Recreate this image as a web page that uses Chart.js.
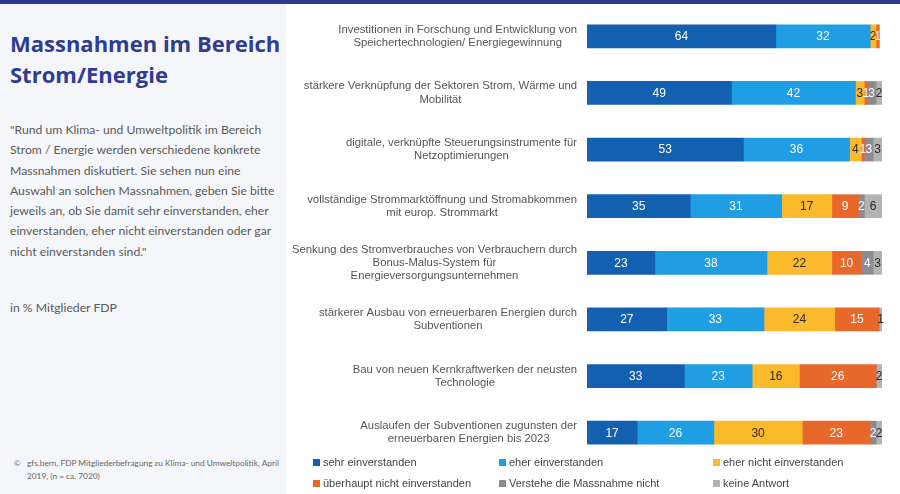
<!DOCTYPE html>
<html>
<head>
<meta charset="utf-8">
<script src="https://cdn.jsdelivr.net/npm/chart.js@4.4.1/dist/chart.umd.min.js"></script>
<style>
  html, body { margin:0; padding:0; width:900px; height:494px; overflow:hidden; background:#ffffff; }
  #topbar { position:absolute; left:0; top:0; width:900px; height:4px; background:#2c3a8e; }
  #panel { position:absolute; left:0; top:4px; width:286px; height:490px; background:#f5f6f9; }
  #title { position:absolute; left:10px; top:28px; font-family:"Open Sans", sans-serif; font-weight:700; font-size:22px; line-height:31px; color:#2f3c8f; white-space:nowrap; }
  #body { position:absolute; left:10px; top:120px; font-family:Lato, sans-serif; font-size:12.2px; line-height:20.3px; color:#5a5a5a; white-space:nowrap; }
  #unit { position:absolute; left:10px; top:300px; font-family:Lato, sans-serif; font-size:12.2px; color:#5a5a5a; white-space:nowrap; }
  #foot { position:absolute; left:14px; top:457px; font-family:Lato, sans-serif; font-size:8.3px; line-height:13px; color:#666; white-space:nowrap; }
  #foot span.c { position:absolute; left:0; top:0; }
  #foot div { margin-left:13px; }
  #wrap { position:absolute; left:286px; top:0; width:614px; height:470px; }
  #legend { position:absolute; left:0; top:0; font-family:"Liberation Sans", Arial, sans-serif; font-size:11px; color:#444; }
  .li { position:absolute; white-space:nowrap; }
  .li i { display:inline-block; width:7px; height:7px; margin-right:3px; vertical-align:0px; }
</style>
</head>
<body>
<div id="topbar"></div>
<div id="panel"></div>
<div id="title">Massnahmen im Bereich<br>Strom/Energie</div>
<div id="body">"Rund um Klima- und Umweltpolitik im Bereich<br>Strom / Energie werden verschiedene konkrete<br>Massnahmen diskutiert. Sie sehen nun eine<br>Auswahl an solchen Massnahmen, geben Sie bitte<br>jeweils an, ob Sie damit sehr einverstanden, eher<br>einverstanden, eher nicht einverstanden oder gar<br>nicht einverstanden sind."</div>
<div id="unit">in % Mitglieder FDP</div>
<div id="foot"><span class="c">©</span><div>gfs.bern, FDP Mitgliederbefragung zu Klima- und Umweltpolitik, April<br>2019, (n = ca. 7020)</div></div>
<div id="wrap"><canvas id="c" width="614" height="470"></canvas></div>
<div id="legend"></div>
<script>
const categories = [
  ["Investitionen in Forschung und Entwicklung von", "Speichertechnologien/ Energiegewinnung"],
  ["stärkere Verknüpfung der Sektoren Strom, Wärme und", "Mobilität"],
  ["digitale, verknüpfte Steuerungsinstrumente für", "Netzoptimierungen"],
  ["vollständige Strommarktöffnung und Stromabkommen", "mit europ. Strommarkt"],
  ["Senkung des Stromverbrauches von Verbrauchern durch", "Bonus-Malus-System für", "Energieversorgungsunternehmen"],
  ["stärkerer Ausbau von erneuerbaren Energien durch", "Subventionen"],
  ["Bau von neuen Kernkraftwerken der neusten", "Technologie"],
  ["Auslaufen der Subventionen zugunsten der", "erneuerbaren Energien bis 2023"]
];
const seriesNames = ["sehr einverstanden", "eher einverstanden", "eher nicht einverstanden",
  "überhaupt nicht einverstanden", "Verstehe die Massnahme nicht", "keine Antwort"];
const sehr       = [64, 49, 53, 35, 23, 27, 33, 17];
const eher       = [32, 42, 36, 31, 38, 33, 23, 26];
const eherNicht  = [ 2,  3,  4, 17, 22, 24, 16, 30];
const ueberhaupt = [ 1,  1,  1,  9, 10, 15, 26, 23];
const verstehe   = [ 0,  3,  3,  2,  4,  0,  0,  2];
const keine      = [ 0,  2,  3,  6,  3,  1,  2,  2];

const colors = ["#1360b0", "#1f9ee3", "#fbb92c", "#e8672a", "#8d8a91", "#b3b3b3"];
const labelColors = ["#ffffff", "#ffffff", "#2b2b2b", "#ffffff", "#ffffff", "#2b2b2b"];
const values = [sehr, eher, eherNicht, ueberhaupt, verstehe, keine];

const catLabelPlugin = {
  id: 'catLabels',
  afterDraw(chart) {
    const ctx = chart.ctx;
    const y = chart.scales.y;
    const rightX = chart.chartArea.left - 10;
    ctx.save();
    ctx.font = '11.3px "Liberation Sans", Arial, sans-serif';
    ctx.fillStyle = '#555555';
    ctx.textAlign = 'center';
    ctx.textBaseline = 'middle';
    const lh = 13.3;
    categories.forEach((lines, i) => {
      const cy = y.getPixelForValue(i);
      const maxW = Math.max(...lines.map(l => ctx.measureText(l).width));
      const cx = rightX - maxW / 2;
      const top = cy - (lines.length - 1) * lh / 2;
      lines.forEach((l, k) => ctx.fillText(l, cx, top + k * lh));
    });
    ctx.restore();
  }
};

const valueLabelPlugin = {
  id: 'valueLabels',
  afterDatasetsDraw(chart) {
    const ctx = chart.ctx;
    ctx.save();
    ctx.font = '12px "Liberation Sans", Arial, sans-serif';
    ctx.textAlign = 'center';
    ctx.textBaseline = 'middle';
    chart.data.datasets.forEach((ds, di) => {
      const meta = chart.getDatasetMeta(di);
      meta.data.forEach((bar, i) => {
        const v = ds.data[i];
        if (!v) return;
        const p = bar.getProps(['x', 'y', 'base'], true);
        ctx.fillStyle = labelColors[di];
        ctx.fillText(String(v), (p.x + p.base) / 2, p.y + 0.5);
      });
    });
    ctx.restore();
  }
};

const chart = new Chart(document.getElementById('c'), {
  type: 'bar',
  data: {
    labels: categories.map(c => c.join(' ')),
    datasets: seriesNames.map((n, i) => ({
      label: n,
      data: values[i],
      backgroundColor: colors[i],
      borderWidth: 0,
      barThickness: 23
    }))
  },
  options: {
    indexAxis: 'y',
    responsive: false,
    animation: false,
    layout: { padding: { left: 301, right: 18, top: 8, bottom: 9 } },
    scales: {
      x: { stacked: true, min: 0, max: 100, display: false },
      y: { stacked: true, display: false }
    },
    plugins: { legend: { display: false }, tooltip: { enabled: false } }
  },
  plugins: [catLabelPlugin, valueLabelPlugin]
});

// HTML legend built from the chart's datasets
const legendPos = [[313, 456], [499, 456], [713, 456], [313, 477], [499, 477], [713, 477]];
const leg = document.getElementById('legend');
chart.data.datasets.forEach((ds, i) => {
  const d = document.createElement('div');
  d.className = 'li';
  d.style.left = legendPos[i][0] + 'px';
  d.style.top = legendPos[i][1] + 'px';
  d.innerHTML = '<i style="background:' + ds.backgroundColor + '"></i>' + ds.label;
  leg.appendChild(d);
});
</script>
</body>
</html>
